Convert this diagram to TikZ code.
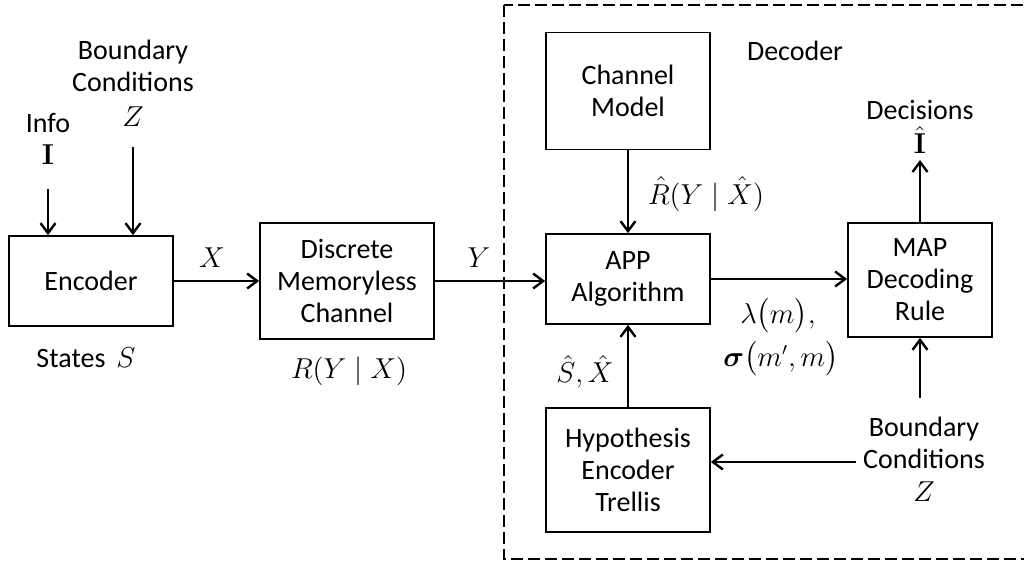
\documentclass[tikz,border=0pt]{standalone}
\usepackage{amsmath}
\usepackage[no-math]{fontspec}
\setmainfont{Carlito}
\usetikzlibrary{arrows.meta}
\tikzset{
  box/.style={draw, line width=0.85pt, inner sep=0pt, align=center, font=\fontsize{14}{16}\selectfont},
  lbl/.style={inner sep=0pt, align=center, font=\fontsize{14}{16}\selectfont},
  mlbl/.style={inner sep=0pt, font=\fontsize{13.5}{16}\selectfont},
  arr/.style={line width=0.75pt, -{Straight Barb[length=5pt,width=7.5pt,line width=1.2pt]}},
  decframe/.style={draw, line width=0.7pt, dash pattern=on 6pt off 2.5pt}
}
\begin{document}
\begin{tikzpicture}[x=0.5pt,y=-0.5pt]
\useasboundingbox (0,0) rectangle (1024,561);
% decoder frame
\draw[decframe] (504,5) rectangle (1034,559);
\node[lbl] (declbl) at (795,51) {Decoder};
% boxes
\node[box, minimum width=82pt, minimum height=45pt] (enc) at (91,281) {Encoder};
\node[box, minimum width=87pt, minimum height=58pt] (dmc) at (347,281) {Discrete\\Memoryless\\Channel};
\node[box, minimum width=82pt, minimum height=58.5pt] (cm) at (628,91) {Channel\\Model};
\node[box, minimum width=82pt, minimum height=45pt] (app) at (628,279) {APP\\Algorithm};
\node[box, minimum width=72pt, minimum height=57pt] (map) at (920,280) {MAP\\Decoding\\Rule};
\node[box, minimum width=82pt, minimum height=62pt] (hyp) at (628,470) {Hypothesis\\Encoder\\Trellis};
% left inputs
\node[lbl] (bc1) at (133,66) {Boundary\\Conditions};
\node[mlbl] (z1) at (133,117) {$Z$};
\node[lbl] (info) at (48,123) {Info};
\node[mlbl] (ivec) at (48,155) {$\mathbf{I}$};
\draw[arr, shorten <=12pt] (ivec) -- (ivec |- enc.north);
\draw[arr, shorten <=10pt] (z1) -- (z1 |- enc.north);
\node[lbl] (states) at (86,358) {States\, $S$};
% channel
\draw[arr] (enc) -- (enc -| dmc.west);
\node[mlbl] (xl) at (212,258) {$X$};
\node[mlbl] (rl) at (349,371) {$R(Y\mid X)$};
\draw[arr] (dmc) -- (dmc -| app.west);
\node[mlbl] (yl) at (479,258) {$Y$};
% decoder internals
\draw[arr] (cm) -- (app);
\node[mlbl] (rhl) at (706,194) {$\hat{R}(Y\mid \hat{X})$};
\draw[arr] (hyp) -- (app);
\node[mlbl] (shl) at (585,372) {$\hat{S},\hat{X}$};
\draw[arr] (app) -- (app -| map.west);
\node[mlbl] (laml) at (778,316) {$\lambda\bigl(m\bigr),$};
\node[mlbl] (sigl) at (781,359) {$\boldsymbol{\sigma}\bigl(m',m\bigr)$};
% outputs
\coordinate (dtop) at (920,160);
\draw[arr] (map) -- (dtop);
\node[lbl] (dec) at (920,110) {Decisions};
\node[mlbl] (ihat) at (920,140) {$\hat{\mathbf{I}}$};
% right boundary conditions
\node[lbl] (bc2) at (924,443) {Boundary\\Conditions};
\node[mlbl] (z2) at (924,492) {$Z$};
\coordinate (bcup) at (920,398);
\draw[arr] (bcup) -- (map);
\coordinate (bcleft) at (856,462);
\draw[arr] (bcleft) -- (bcleft -| hyp.east);
\end{tikzpicture}
\end{document}
